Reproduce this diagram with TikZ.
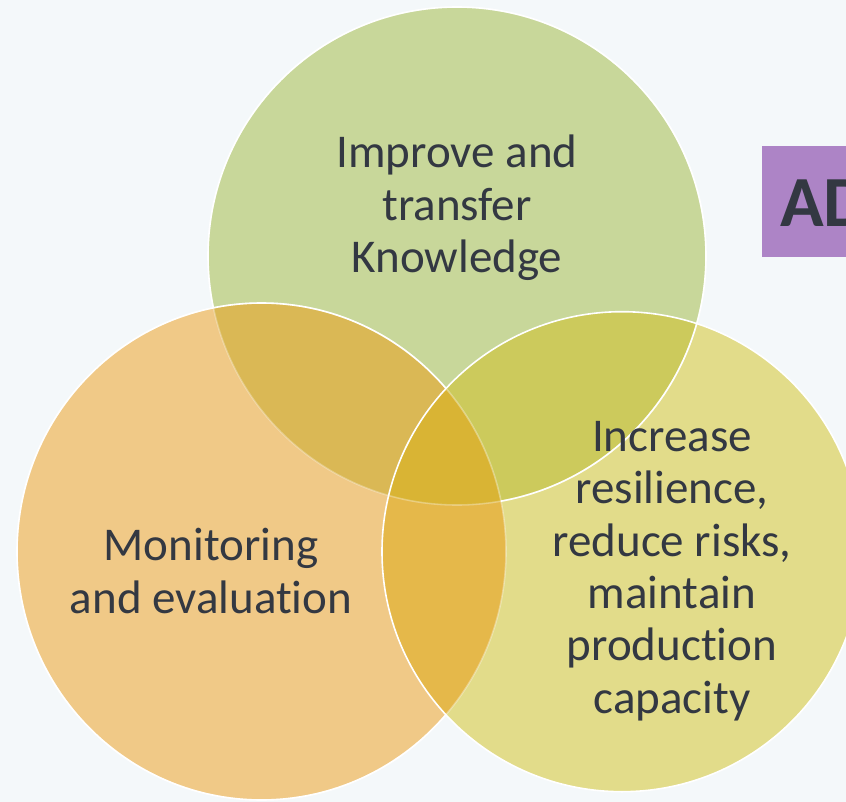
\documentclass[tikz,border=0pt]{standalone}
\usepackage{fontspec}
\setmainfont{Carlito}[Ligatures={NoCommon}]
\definecolor{bgc}{HTML}{F4F8FA}
\definecolor{cG}{HTML}{C8D79A}
\definecolor{cO}{HTML}{F0C987}
\definecolor{cY}{HTML}{E2DC8A}
\definecolor{cGO}{HTML}{DAB855}
\definecolor{cGY}{HTML}{CCCA5C}
\definecolor{cOY}{HTML}{E5B84A}
\definecolor{cGOY}{HTML}{D9B434}
\definecolor{purp}{HTML}{AD84C6}
\definecolor{txt}{HTML}{333842}
\tikzset{
  lbl/.style={text=txt, align=center, inner sep=0pt, font=\fontsize{47}{52.4}\selectfont},
  rim/.style={draw=white, line width=1.6pt},
}
\def\GC{(457,256) ellipse[x radius=249, y radius=249]}
\def\OC{(261.5,551.5) ellipse[x radius=244.5, y radius=248.5]}
\def\YC{(622,551.7) ellipse[x radius=240, y radius=240]}
\begin{document}
\begin{tikzpicture}[x=1pt,y=-1pt]
\fill[bgc] (0,0) rectangle (846,802);
\useasboundingbox (0,0) rectangle (846,802);
% circles
\fill[cG] \GC;
\fill[cO] \OC;
\fill[cY] \YC;
\begin{scope}
  \clip \GC;
  \fill[cGO] \OC;
  \fill[cGY] \YC;
  \clip \OC;
  \fill[cGOY] \YC;
\end{scope}
\begin{scope}
  \clip \OC;
  \clip \YC;
  \begin{scope}[even odd rule]
    \clip (-10,-10) rectangle (860,820) \GC;
    \fill[cOY] (-10,-10) rectangle (860,820);
  \end{scope}
\end{scope}
% outlines
\draw[rim, draw opacity=0.3] \GC;
\begin{scope}[even odd rule]
  \clip (-10,-10) rectangle (860,820) \OC;
  \draw[rim] \GC;
\end{scope}
\draw[rim, draw opacity=0.35] \OC;
\begin{scope}[even odd rule]
  \clip (-10,-10) rectangle (860,820) \YC;
  \draw[rim] \OC;
\end{scope}
\draw[rim] \YC;
% labels
\node[lbl] (know) at (457,208) {Improve and\\transfer\\Knowledge};
\node[lbl] (mon) at (211,571) {Monitoring\\and evaluation};
\node[lbl] (res) at (672,571) {Increase\\resilience,\\reduce risks,\\maintain\\production\\capacity};
% purple box
\node[fill=purp, minimum width=120pt, minimum height=111pt, anchor=north west, inner sep=0pt] (ad) at (762,146) {};
\node[text=txt, anchor=base west, inner sep=0pt, font=\fontsize{72}{80}\selectfont\bfseries] (adt) at (780,227) {AD};
\end{tikzpicture}
\end{document}
